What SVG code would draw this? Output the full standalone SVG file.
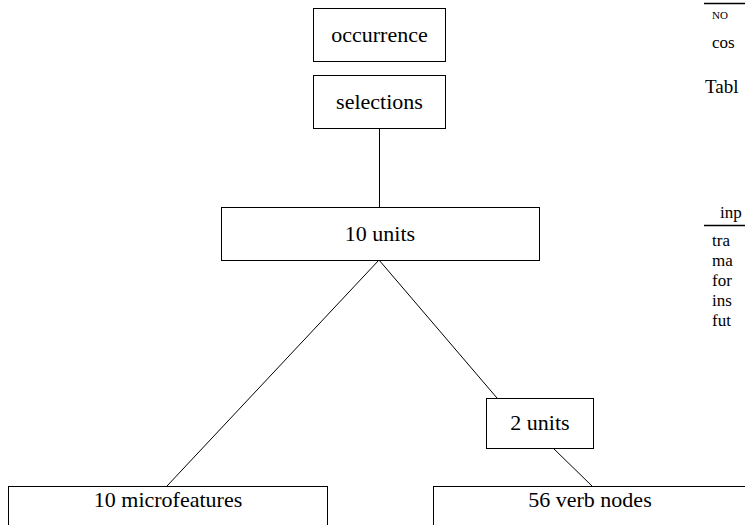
<svg xmlns="http://www.w3.org/2000/svg" width="745" height="525" viewBox="0 0 745 525">
<style>
.box{fill:#fff;stroke:#000;stroke-width:1}
.conn line{stroke:#000;stroke-width:1}
</style>
<rect width="745" height="525" fill="#fff"/>
<g class="conn" id="connectors">
<line x1="379.5" y1="128" x2="379.5" y2="207"/>
<line x1="379" y1="260" x2="167" y2="486"/>
<line x1="379" y1="260" x2="497" y2="398"/>
<line x1="553" y1="448" x2="592" y2="486"/>
</g>
<g font-family="Liberation Serif, DejaVu Serif, serif" font-size="22" text-anchor="middle" fill="#000">
<g id="occurrence"><rect class="box" x="313.5" y="8.5" width="132" height="53"/><text x="379.5" y="42">occurrence</text></g>
<g id="selections"><rect class="box" x="313.5" y="75.5" width="132" height="53"/><text x="379.5" y="109">selections</text></g>
<g id="units10"><rect class="box" x="221.5" y="207.5" width="318" height="53"/><text x="380" y="241">10 units</text></g>
<g id="units2"><rect class="box" x="486.5" y="398.5" width="107" height="50"/><text x="540" y="430">2 units</text></g>
<g id="microfeatures"><rect class="box" x="8.5" y="486.5" width="319" height="60"/><text x="168" y="507">10 microfeatures</text></g>
<g id="verbnodes"><rect class="box" x="433.5" y="486.5" width="330" height="60"/><text x="590" y="507">56 verb nodes</text></g>
</g>
<g id="sidetext" font-family="Liberation Serif, DejaVu Serif, serif" font-size="17" fill="#000">
<line x1="704" y1="3.5" x2="745" y2="3.5" stroke="#000" stroke-width="1.5"/>
<text x="712" y="19" font-size="11">NO</text>
<text x="712" y="48">cos</text>
<text x="705" y="93" font-size="19">Tabl</text>
<text x="720" y="218">inp</text>
<line x1="704" y1="225.5" x2="745" y2="225.5" stroke="#000" stroke-width="1.5"/>
<text x="712" y="246">tra</text>
<text x="712" y="266">ma</text>
<text x="712" y="286">for</text>
<text x="712" y="306">ins</text>
<text x="712" y="326">fut</text>
</g>
</svg>
